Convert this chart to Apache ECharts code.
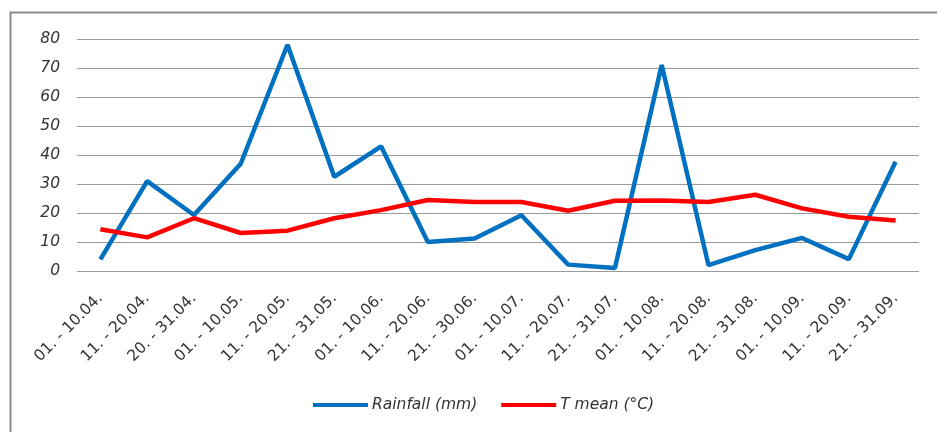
<!DOCTYPE html>
<html>
<head>
<meta charset="utf-8">
<script src="https://cdn.jsdelivr.net/npm/echarts@6/dist/echarts.min.js"></script>
<style>html,body{margin:0;padding:0;background:#fff}#c{width:937px;height:432px}</style>
</head>
<body>
<div id="c"></div>
<script>
const categories = ["01. - 10.04.","11. - 20.04.","20. - 31.04.","01. - 10.05.","11. - 20.05.","21. - 31.05.","01. - 10.06.","11. - 20.06.","21. - 30.06.","01. - 10.07.","11. - 20.07.","21. - 31.07.","01. - 10.08.","11. - 20.08.","21. - 31.08.","01. - 10.09.","11. - 20.09.","21. - 31.09."];
const rainfall = [4, 31, 19.3, 37, 78, 32.5, 43, 10, 11.2, 19.2, 2.2, 1, 71, 2, 7.2, 11.4, 4.1, 37.7];
const tmean = [14.4, 11.6, 18.2, 13.1, 13.9, 18.2, 21, 24.5, 23.8, 23.8, 20.8, 24.2, 24.3, 23.8, 26.3, 21.6, 18.7, 17.4];
const yTicks = {min: 0, max: 80, interval: 10};

const chart = echarts.init(document.getElementById('c'), null, {renderer: 'canvas'});
const font = '"DejaVu Sans", sans-serif';
chart.setOption({
  animation: false,
  backgroundColor: '#fff',
  graphic: [{
    type: 'rect', left: 8, top: 10, shape: {width: 940, height: 440},
    style: {fill: 'none', stroke: '#8a8a8a', lineWidth: 2}
  }],
  grid: {left: 77, right: 18, top: 39, bottom: 161},
  legend: {
    bottom: 14, left: 308, icon: 'rect', itemWidth: 55, itemHeight: 4, itemGap: 24,
    textStyle: {fontFamily: font, fontStyle: 'italic', fontSize: 15.5, color: '#333', padding: [0,0,0,-1]},
    data: ['Rainfall (mm)', 'T mean (°C)']
  },
  xAxis: {
    type: 'category', data: categories, boundaryGap: true,
    axisLine: {show: false}, axisTick: {show: false},
    axisLabel: {rotate: 45, margin: 25, fontFamily: font, fontSize: 15.5, color: '#333', interval: 0}
  },
  yAxis: {
    type: 'value', min: yTicks.min, max: yTicks.max, interval: yTicks.interval,
    axisLine: {show: false}, axisTick: {show: false},
    axisLabel: {margin: 17, fontFamily: font, fontStyle: 'italic', fontSize: 15.5, color: '#333'},
    splitLine: {lineStyle: {color: '#9a9a9a', width: 1}}
  },
  series: [
    {name: 'Rainfall (mm)', type: 'line', data: rainfall, showSymbol: false, symbol: 'none',
     lineStyle: {color: '#0070C0', width: 4.5}, itemStyle: {color: '#0070C0'}},
    {name: 'T mean (°C)', type: 'line', data: tmean, showSymbol: false, symbol: 'none',
     lineStyle: {color: '#FF0000', width: 4.5}, itemStyle: {color: '#FF0000'}}
  ]
});
</script>
</body>
</html>
